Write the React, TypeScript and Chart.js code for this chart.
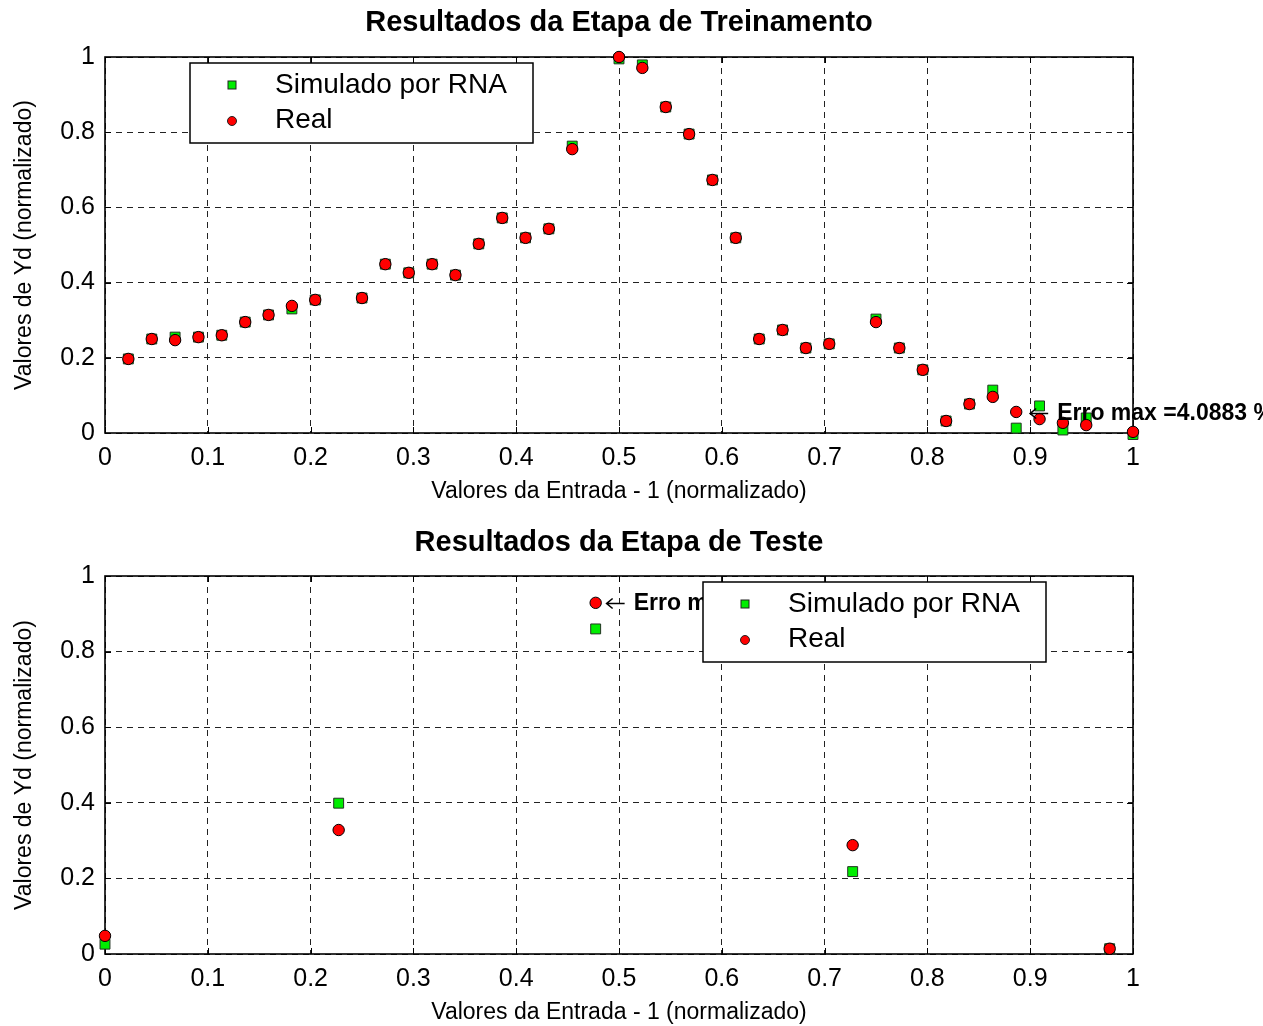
import React, { useEffect, useRef } from "react";
import { Chart, registerables } from "chart.js";

Chart.register(...registerables);

const FONT = "'Liberation Sans', Arial, Helvetica, sans-serif";

// ---- data ----
const trainX = [
  0.0227, 0.0455, 0.0682, 0.0909, 0.1136, 0.1364, 0.1591, 0.1818, 0.2045, 0.25,
  0.2727, 0.2955, 0.3182, 0.3409, 0.3636, 0.3864, 0.4091, 0.4318, 0.4545, 0.5,
  0.5227, 0.5455, 0.5682, 0.5909, 0.6136, 0.6364, 0.6591, 0.6818, 0.7045, 0.75,
  0.7727, 0.7955, 0.8182, 0.8409, 0.8636, 0.8864, 0.9091, 0.9318, 0.9545, 1.0,
];
const trainReal = [
  0.197, 0.25, 0.247, 0.255, 0.26, 0.295, 0.314, 0.338, 0.354, 0.359,
  0.449, 0.426, 0.449, 0.42, 0.503, 0.572, 0.519, 0.543, 0.755, 1.0,
  0.971, 0.867, 0.795, 0.673, 0.519, 0.25, 0.274, 0.226, 0.237, 0.295,
  0.226, 0.168, 0.032, 0.077, 0.096, 0.056, 0.037, 0.027, 0.021, 0.003,
];
const trainSim = [
  0.197, 0.25, 0.255, 0.255, 0.26, 0.295, 0.314, 0.33, 0.354, 0.359,
  0.449, 0.426, 0.449, 0.42, 0.503, 0.572, 0.519, 0.543, 0.763, 0.995,
  0.979, 0.867, 0.795, 0.673, 0.519, 0.25, 0.274, 0.226, 0.237, 0.303,
  0.226, 0.168, 0.032, 0.077, 0.114, 0.013, 0.072, 0.008, 0.04, -0.004,
];
const testX = [0, 0.2273, 0.4773, 0.7273, 0.9773];
const testReal = [0.048, 0.328, 0.929, 0.288, 0.014];
const testSim = [0.026, 0.399, 0.86, 0.218, 0.014];

const xTicks = [0, 0.1, 0.2, 0.3, 0.4, 0.5, 0.6, 0.7, 0.8, 0.9, 1];
const xTickLabels = ["0", "0.1", "0.2", "0.3", "0.4", "0.5", "0.6", "0.7", "0.8", "0.9", "1"];
const yTicks = [0, 0.2, 0.4, 0.6, 0.8, 1];
const yTickLabels = ["0", "0.2", "0.4", "0.6", "0.8", "1"];

const seriesLabels = ["Simulado por RNA", "Real"];
const chartTitles = ["Resultados da Etapa de Treinamento", "Resultados da Etapa de Teste"];
const xAxisTitle = "Valores da Entrada - 1 (normalizado)";
const yAxisTitle = "Valores de Yd (normalizado)";
const annotX = [0.899, 0.487];
const annotY = [0.053, 0.929];
const annotText = ["Erro max =4.0883 %", "Erro max =7.4273 %"];

const SIM_COLOR = "#00ee00";
const REAL_COLOR = "#ff0000";

function labelFor(values: number[], labels: string[], v: number) {
  for (let i = 0; i < values.length; i++) {
    if (Math.abs(values[i] - v) < 1e-6) return labels[i];
  }
  return "";
}

type Cfg = {
  idx: number;
  xs: number[];
  real: number[];
  sim: number[];
  height: number;
  padTop: number;
  xAxisH: number;
  xTitlePad: number;
  titleY: number;
  legendLeft: number;
};

function makePlugin(cfg: Cfg) {
  return {
    id: "matlabDecor" + cfg.idx,
    beforeDatasetsDraw(chart: any) {
      const { ctx, chartArea: a, scales } = chart;
      ctx.save();
      ctx.strokeStyle = "#000";
      ctx.lineWidth = 1;
      ctx.beginPath();
      for (const v of xTicks) {
        const px = Math.round(scales.x.getPixelForValue(v)) + 0.5;
        ctx.moveTo(px, a.bottom);
        ctx.lineTo(px, a.bottom - 6);
        ctx.moveTo(px, a.top);
        ctx.lineTo(px, a.top + 6);
      }
      for (const v of yTicks) {
        const py = Math.round(scales.y.getPixelForValue(v)) + 0.5;
        ctx.moveTo(a.left, py);
        ctx.lineTo(a.left + 6, py);
        ctx.moveTo(a.right, py);
        ctx.lineTo(a.right - 6, py);
      }
      ctx.stroke();
      ctx.lineWidth = 1.6;
      ctx.strokeRect(a.left, a.top, a.right - a.left, a.bottom - a.top);
      ctx.fillStyle = "#000";
      ctx.font = `bold 29px ${FONT}`;
      ctx.textAlign = "center";
      ctx.textBaseline = "middle";
      ctx.fillText(chartTitles[cfg.idx], (a.left + a.right) / 2, cfg.titleY);
      ctx.restore();
    },
    afterDatasetsDraw(chart: any) {
      const { ctx, chartArea: a, scales } = chart;
      ctx.save();
      // annotation: arrow + bold text
      const ax = scales.x.getPixelForValue(annotX[cfg.idx]);
      const ay = Math.round(scales.y.getPixelForValue(annotY[cfg.idx])) + 0.5;
      ctx.strokeStyle = "#000";
      ctx.lineWidth = 1.6;
      ctx.beginPath();
      ctx.moveTo(ax + 1, ay);
      ctx.lineTo(ax + 19, ay);
      ctx.moveTo(ax + 7, ay - 5);
      ctx.lineTo(ax + 1, ay);
      ctx.lineTo(ax + 7, ay + 5);
      ctx.stroke();
      ctx.fillStyle = "#000";
      ctx.textAlign = "left";
      ctx.textBaseline = "middle";
      ctx.font = `bold 23px ${FONT}`;
      ctx.fillText(annotText[cfg.idx], ax + 28, ay);
      // legend
      const lx = a.left + cfg.legendLeft;
      const ly = a.top + 6;
      const lw = 343;
      const lh = 80;
      ctx.fillStyle = "#fff";
      ctx.fillRect(lx, ly, lw, lh);
      ctx.strokeStyle = "#000";
      ctx.lineWidth = 1.5;
      ctx.strokeRect(lx, ly, lw, lh);
      ctx.fillStyle = SIM_COLOR;
      ctx.fillRect(lx + 38, ly + 18, 8, 8);
      ctx.lineWidth = 1;
      ctx.strokeStyle = "#222";
      ctx.strokeRect(lx + 38, ly + 18, 8, 8);
      ctx.beginPath();
      ctx.arc(lx + 42, ly + 58, 4.5, 0, Math.PI * 2);
      ctx.fillStyle = REAL_COLOR;
      ctx.fill();
      ctx.stroke();
      ctx.fillStyle = "#000";
      ctx.font = `28px ${FONT}`;
      ctx.fillText(seriesLabels[0], lx + 85, ly + 22);
      ctx.fillText(seriesLabels[1], lx + 85, ly + 57);
      ctx.restore();
    },
  };
}

function MatlabChart({ cfg, top }: { cfg: Cfg; top: number }) {
  const ref = useRef<HTMLCanvasElement | null>(null);
  useEffect(() => {
    if (!ref.current) return;
    const simData = cfg.xs.map((x, i) => ({ x, y: cfg.sim[i] }));
    const realData = cfg.xs.map((x, i) => ({ x, y: cfg.real[i] }));
    const chart = new Chart(ref.current, {
      type: "scatter",
      data: {
        datasets: [
          {
            label: seriesLabels[0],
            data: simData,
            pointStyle: "rect",
            pointRadius: 7,
            backgroundColor: SIM_COLOR,
            borderColor: "#223322",
            borderWidth: 1,
            order: 2,
            clip: false,
          } as any,
          {
            label: seriesLabels[1],
            data: realData,
            pointStyle: "circle",
            pointRadius: 5.7,
            backgroundColor: REAL_COLOR,
            borderColor: "#000",
            borderWidth: 1,
            order: 1,
            clip: false,
          } as any,
        ],
      },
      options: {
        animation: false,
        responsive: false,
        devicePixelRatio: 1,
        layout: { padding: { top: cfg.padTop, left: 0, right: 130, bottom: 0 } },
        plugins: { legend: { display: false }, tooltip: { enabled: false }, title: { display: false } },
        scales: {
          x: {
            type: "linear",
            min: 0,
            max: 1,
            afterBuildTicks: (s: any) => {
              s.ticks = xTicks.map((v) => ({ value: v }));
            },
            afterFit: (s: any) => {
              s.height = cfg.xAxisH;
            },
            ticks: {
              autoSkip: false,
              maxRotation: 0,
              padding: 10,
              color: "#000",
              font: { family: FONT, size: 25 },
              callback: (v: any) => labelFor(xTicks, xTickLabels, Number(v)),
            },
            grid: { color: "#222", lineWidth: 1, drawTicks: false },
            border: { display: false, dash: [6, 5] },
            title: {
              display: true,
              text: xAxisTitle,
              color: "#000",
              font: { family: FONT, size: 23 },
              padding: { top: 0, bottom: cfg.xTitlePad },
            },
          },
          y: {
            type: "linear",
            min: 0,
            max: 1,
            afterBuildTicks: (s: any) => {
              s.ticks = yTicks.map((v) => ({ value: v }));
            },
            afterFit: (s: any) => {
              s.width = 105;
            },
            ticks: {
              autoSkip: false,
              padding: 10,
              color: "#000",
              font: { family: FONT, size: 25 },
              callback: (v: any) => labelFor(yTicks, yTickLabels, Number(v)),
            },
            grid: { color: "#222", lineWidth: 1, drawTicks: false },
            border: { display: false, dash: [6, 5] },
            title: {
              display: true,
              text: yAxisTitle,
              color: "#000",
              font: { family: FONT, size: 23 },
              padding: { top: 11, bottom: 0 },
            },
          },
        },
      } as any,
      plugins: [makePlugin(cfg)],
    });
    return () => chart.destroy();
  }, []);
  return (
    <canvas
      ref={ref}
      width={1263}
      height={cfg.height}
      style={{ position: "absolute", left: 0, top, width: 1263, height: cfg.height, display: "block" }}
    />
  );
}

const topCfg: Cfg = {
  idx: 0,
  xs: trainX,
  real: trainReal,
  sim: trainSim,
  height: 515,
  padTop: 57,
  xAxisH: 82,
  xTitlePad: 10,
  titleY: 23,
  legendLeft: 85,
};

const bottomCfg: Cfg = {
  idx: 1,
  xs: testX,
  real: testReal,
  sim: testSim,
  height: 511,
  padTop: 61,
  xAxisH: 72,
  xTitlePad: 0,
  titleY: 28,
  legendLeft: 598,
};

export default function App() {
  return (
    <div style={{ position: "absolute", left: 0, top: 0, width: 1263, height: 1026, background: "#fff", overflow: "hidden" }}>
      <MatlabChart cfg={topCfg} top={0} />
      <MatlabChart cfg={bottomCfg} top={515} />
    </div>
  );
}
